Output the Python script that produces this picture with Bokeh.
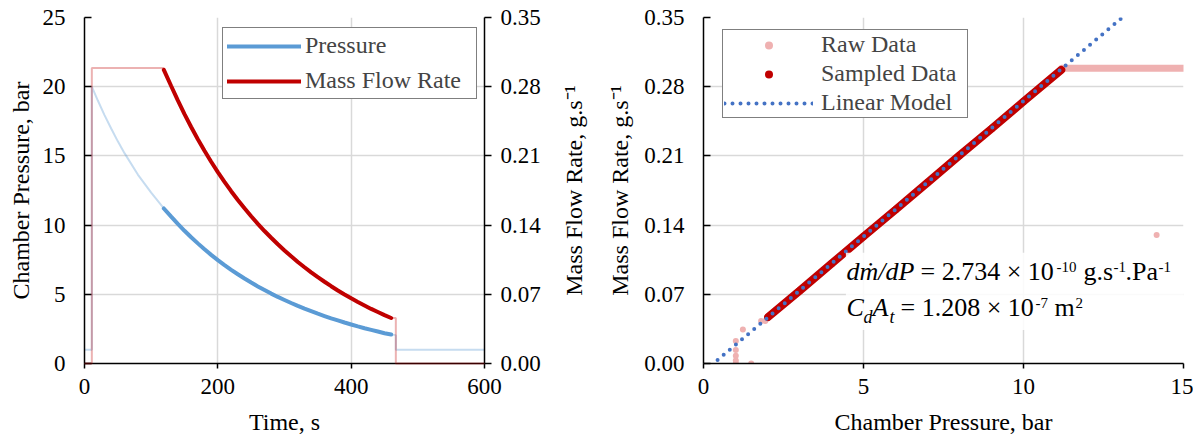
import math
from bokeh.plotting import figure
from bokeh.models import (Range1d, LinearAxis, FixedTicker, NumeralTickFormatter,
                          Legend, LegendItem, Label, BoxAnnotation, Title)
from bokeh.layouts import row
from bokeh.embed import file_html
from bokeh.resources import INLINE

NAN = float("nan")

# ---------------- Left chart data (time series) ----------------
# faded (full) pressure trace
raw_time = [0, 11, 11, 20, 30, 40, 50, 60, 80, 100, 119, 140, 160, 180, 200, 250, 300,
            350, 400, 460, 467, 467, 600]
raw_pressure = [1.0, 1.0, 20.0, 19.0, 17.95, 16.98, 16.05, 15.2, 13.65, 12.35, 11.2, 10.09,
                9.12, 8.25, 7.47, 5.85, 4.59, 3.60, 2.82, 2.09, 2.05, 1.0, 1.0]
# faded mass-flow trace outside the sampled window
raw_mdot_time = [0, 11, 11, 119, NAN, 460, 467, 467, 600]
raw_mdot = [0.0, 0.0, 0.299, 0.299, NAN, 0.046, 0.046, 0.0, 0.0]

# sampled window (bold curves)
sampled_time = [119, 130, 140, 150, 160, 170, 180, 190, 200, 210, 220, 230, 240, 250, 260,
                270, 280, 290, 300, 310, 320, 330, 340, 350, 360, 370, 380, 390, 400, 410,
                420, 430, 440, 450, 460]
sampled_pressure = [11.2, 10.61, 10.09, 9.59, 9.12, 8.68, 8.25, 7.85, 7.47, 7.11, 6.77, 6.45,
                    6.14, 5.85, 5.57, 5.31, 5.05, 4.81, 4.59, 4.37, 4.16, 3.96, 3.78, 3.60,
                    3.43, 3.26, 3.11, 2.96, 2.82, 2.68, 2.55, 2.43, 2.31, 2.19, 2.09]
sampled_mdot = [0.297, 0.2807, 0.2661, 0.2522, 0.2392, 0.2269, 0.2152, 0.2041, 0.1936,
                0.1838, 0.1743, 0.1654, 0.1570, 0.1489, 0.1412, 0.1340, 0.1272, 0.1206,
                0.1144, 0.1084, 0.1027, 0.0974, 0.0922, 0.0873, 0.0827, 0.0782, 0.0739,
                0.0698, 0.0659, 0.0622, 0.0587, 0.0552, 0.0521, 0.0489, 0.046]

time_ticks = [0, 200, 400, 600]
pressure_ticks = [0, 5, 10, 15, 20, 25]
mdot_ticks = [0, 0.07, 0.14, 0.21, 0.28, 0.35]

# ---------------- Right chart data (mdot vs pressure) ----------------
raw_pt_p = [1.01, 1.01, 1.01, 1.01, 1.01, 1.23, 1.49, 1.80, 1.93, 14.16]
raw_pt_m = [0.0, 0.003, 0.0078, 0.0136, 0.0227, 0.0345, 0.0, 0.043, 0.043, 0.130]
raw_flat_p = [11.2, 15.0]
raw_flat_m = [0.2987, 0.2987]
fit_sampled_p = [2.02, 3.0, 4.0, 5.0, 6.0, 7.0, 8.0, 9.0, 10.0, 11.18]
fit_sampled_m = [0.047, 0.0735, 0.1010, 0.1285, 0.1555, 0.1830, 0.2105, 0.2375, 0.2650, 0.2970]
model_p = [0.44, 13.05]
model_m = [0.0035, 0.349]
press_ticks_r = [0, 5, 10, 15]

FONT = "Liberation Serif"
BLUE = "#5B9BD5"
RED = "#C00000"
GRID = "#D9D9D9"
PINK = "#EFB1B1"


def style_axis(ax, ticks, tin, tout, label_standoff, title_standoff, fmt=None):
    ax.ticker = FixedTicker(ticks=ticks)
    if fmt:
        ax.formatter = NumeralTickFormatter(format=fmt)
    ax.axis_line_color = "black"
    ax.axis_line_width = 1.5
    ax.major_tick_line_color = "black"
    ax.major_tick_line_width = 1.5
    ax.major_tick_in = tin
    ax.major_tick_out = tout
    ax.minor_tick_line_color = None
    ax.major_label_text_font = FONT
    ax.major_label_text_font_size = "23px"
    ax.major_label_text_color = "black"
    ax.major_label_standoff = label_standoff
    ax.axis_label_text_font = FONT
    ax.axis_label_text_font_size = "24px"
    ax.axis_label_text_font_style = "normal"
    ax.axis_label_text_color = "black"
    ax.axis_label_standoff = title_standoff


def style_grid(p, xt, yt):
    p.xgrid.ticker = FixedTicker(ticks=xt)
    p.ygrid.ticker = FixedTicker(ticks=yt)
    for g in (p.xgrid, p.ygrid):
        g.grid_line_color = GRID
        g.grid_line_width = 1.5


# ---------------- Left figure ----------------
p1 = figure(width=544, height=440, x_range=Range1d(0, 600), y_range=Range1d(0, 25),
            output_backend="svg", toolbar_location=None,
            min_border_left=84, min_border_right=60, min_border_top=17, min_border_bottom=77)
p1.extra_y_ranges = {"mdot": Range1d(0, 0.35)}
p1.outline_line_color = None
p1.background_fill_color = "white"
p1.border_fill_color = "white"
style_grid(p1, time_ticks, pressure_ticks)

style_axis(p1.xaxis[0], time_ticks, 0, 5, 10, 12)
p1.xaxis[0].axis_label = "Time, s"
style_axis(p1.yaxis[0], pressure_ticks, 7, 0, 19, 6)
p1.yaxis[0].axis_label = "Chamber Pressure, bar"

ax_r = LinearAxis(y_range_name="mdot")
style_axis(ax_r, mdot_ticks, 0, 7, 9, 14, fmt="0.00")
p1.add_layout(ax_r, "right")

p1.line(raw_time, raw_pressure, line_color=BLUE, line_alpha=0.35, line_width=2)
rf = p1.line(raw_mdot_time, raw_mdot, line_color=RED, line_alpha=0.3, line_width=2,
             y_range_name="mdot")
rf.level = "overlay"
r_p = p1.line(sampled_time, sampled_pressure, line_color=BLUE, line_width=4, line_cap="round")
r_m = p1.line(sampled_time, sampled_mdot, line_color=RED, line_width=4, line_cap="round",
              y_range_name="mdot")

leg1 = Legend(items=[LegendItem(label="Pressure", renderers=[r_p]),
                     LegendItem(label="Mass Flow Rate", renderers=[r_m])],
              location=(138, 264), margin=0, padding=4, spacing=8,
              glyph_width=74, glyph_height=20, label_standoff=4,
              label_width=167, label_height=20,
              label_text_font=FONT, label_text_font_size="24px",
              border_line_color="black", border_line_width=1.5,
              background_fill_color="white", background_fill_alpha=1.0)
p1.add_layout(leg1)

# ---------------- Right figure ----------------
p2 = figure(width=649, height=440, x_range=Range1d(0, 15), y_range=Range1d(0, 0.35),
            output_backend="svg", toolbar_location=None,
            min_border_left=159, min_border_right=10, min_border_top=17, min_border_bottom=77)
p2.outline_line_color = None
p2.background_fill_color = "white"
p2.border_fill_color = "white"
style_grid(p2, press_ticks_r, mdot_ticks)

style_axis(p2.xaxis[0], press_ticks_r, 0, 5, 10, 12)
p2.xaxis[0].axis_label = "Chamber Pressure, bar"
style_axis(p2.yaxis[0], mdot_ticks, 7, 0, 19, 8, fmt="0.00")
p2.yaxis[0].axis_label = "Mass Flow Rate, g.s⁻¹"

# title of the left chart's secondary (right) axis, drawn in the gap between the charts
p2.add_layout(Title(text="Mass Flow Rate, g.s⁻¹", align="center", standoff=32,
                    vertical_align="top",
                    text_font=FONT, text_font_size="24px", text_font_style="normal",
                    text_color="black"), "left")

p2.line(raw_flat_p, raw_flat_m, line_color=PINK, line_width=7, line_cap="round")
r_raw = p2.scatter(raw_pt_p, raw_pt_m, size=6, marker="circle", fill_color=PINK,
                   line_color=None)
p2.line(fit_sampled_p, fit_sampled_m, line_color=RED, line_width=8, line_cap="round")
r_s = p2.scatter(fit_sampled_p, fit_sampled_m, size=7, marker="circle", fill_color=RED,
                 line_color=None)
r_lin = p2.line(model_p, model_m, line_color="#4472C4", line_width=4,
                line_dash="0 8", line_cap="round")

leg2 = Legend(items=[LegendItem(label="Raw Data", renderers=[r_raw]),
                     LegendItem(label="Sampled Data", renderers=[r_s]),
                     LegendItem(label="Linear Model", renderers=[r_lin])],
              location=(19, 245), margin=0, padding=1, spacing=2,
              glyph_width=89, glyph_height=20, label_standoff=8,
              label_width=145, label_height=20,
              label_text_font=FONT, label_text_font_size="24px",
              border_line_color="black", border_line_width=1.5,
              background_fill_color="white", background_fill_alpha=1.0)
p2.add_layout(leg2)

box = BoxAnnotation(left=4.45, right=15, bottom=0.034, top=0.112,
                    fill_color="white", fill_alpha=0.85, line_alpha=0)
p2.add_layout(box)


def lab(x, y, text, size="26px", italic=False):
    p2.add_layout(Label(x=x, y=y, x_units="screen", y_units="screen", text=text,
                        text_font=FONT, text_font_size=size,
                        text_font_style="italic" if italic else "normal",
                        text_color="black", text_baseline="alphabetic"))


# equation 1: dm/dP = 2.734 x 10^-10 g.s^-1.Pa^-1
lab(143, 92, "dṁ/dP", italic=True)
lab(217, 92, "= 2.734 × 10")
lab(353, 97, "-10", size="15px")
lab(380, 92, "g.s")
lab(410, 97, "-1", size="15px")
lab(422, 92, ".Pa")
lab(455, 97, "-1", size="15px")
# equation 2: Cd At = 1.208 x 10^-7 m^2
lab(143, 56, "C", italic=True)
lab(160, 47, "d", size="18px", italic=True)
lab(169, 56, "A", italic=True)
lab(186, 47, "t", size="18px", italic=True)
lab(197, 56, "= 1.208 × 10")
lab(332, 61, "-7", size="15px")
lab(351, 56, "m")
lab(372, 61, "2", size="15px")

layout = row(p1, p2)
open("out.html", "w").write(file_html(layout, INLINE))
